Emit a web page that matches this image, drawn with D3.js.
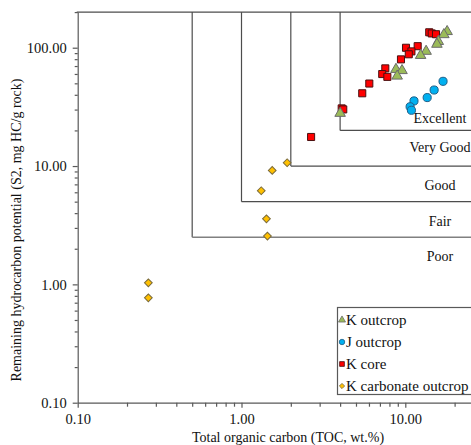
<!DOCTYPE html>
<html>
<head>
<meta charset="utf-8">
<script src="https://cdn.jsdelivr.net/npm/d3@7/dist/d3.min.js"></script>
<style>
  html, body { margin: 0; padding: 0; background: #fff; overflow: hidden; }
  svg { display: block; font-family: "Liberation Serif", "Times New Roman", serif; }
</style>
</head>
<body>
<svg id="chart" width="471" height="445"></svg>
<script>
// ---- Data (TOC wt.%, S2 mg HC/g rock) ----
const kOutcropTOC = [18.0, 17.2, 15.9, 15.6, 13.4, 12.4, 8.77, 9.55, 8.92, 4.0];
const kOutcropS2  = [137, 129, 113, 107, 93.3, 86.1, 65.6, 64.1, 57.6, 27.9];

const jOutcropTOC = [17.0, 15.0, 13.6, 11.3, 10.7, 10.9];
const jOutcropS2  = [52.0, 43.9, 37.9, 35.5, 31.7, 29.6];

const kCoreTOC = [14.0, 14.5, 15.4, 10.1, 11.9, 10.9, 10.5, 9.41, 7.55, 7.23, 7.77, 6.03, 5.46, 4.09, 4.18, 2.66];
const kCoreS2  = [135, 132, 130, 99.9, 103, 93.1, 88.0, 79.7, 66.9, 59.9, 56.7, 49.8, 41.2, 30.7, 30.1, 17.6];

const kCarbTOC = [1.90, 1.54, 1.32, 1.42, 1.44, 0.27, 0.27];
const kCarbS2  = [10.66, 9.19, 6.18, 3.58, 2.56, 1.03, 0.77];

const seriesNames = ["K outcrop", "J outcrop", "K core", "K carbonate outcrop"];

// Classification thresholds (Poor/Fair, Fair/Good, Good/Very Good, Very Good/Excellent)
const tocLimits = [0.5, 1, 2, 4];
const s2Limits  = [2.5, 5, 10, 20];
const classLabels = ["Poor", "Fair", "Good", "Very Good", "Excellent"];

const xMajor = [0.1, 1, 10];
const xMinor = [0.2,0.3,0.4,0.5,0.6,0.7,0.8,0.9,2,3,4,5,6,7,8,9,20];
const yMajor = [0.1, 1, 10, 100];
const yMinor = [0.2,0.3,0.4,0.5,0.6,0.7,0.8,0.9,2,3,4,5,6,7,8,9,20,30,40,50,60,70,80,90,200];

// ---- Layout ----
const W = 471, H = 445;
const x0 = 77.7, dec = 163.8;
const yBottom = 402.7, ydec = 118.33;
const x = d3.scaleLog().domain([0.1, 25]).range([x0, x0 + dec * Math.log10(250)]);
const y = d3.scaleLog().domain([0.1, 200]).range([yBottom, yBottom - ydec * Math.log10(2000)]);
const fmt = d3.format(".2f");

const svg = d3.select("#chart");
const axisColor = "#595959";
const lineColor = "#4d4d4d";

// ---- Classification boxes ----
const boxes = svg.append("g");
tocLimits.forEach((t, i) => {
  const s = s2Limits[i];
  boxes.append("line")
    .attr("x1", x(t)).attr("x2", x(t))
    .attr("y1", y(s)).attr("y2", y(200))
    .attr("stroke", lineColor).attr("stroke-width", 1.2);
  boxes.append("line")
    .attr("x1", x(t)).attr("x2", W + 5)
    .attr("y1", y(s)).attr("y2", y(s))
    .attr("stroke", i === 0 ? "#808080" : lineColor).attr("stroke-width", i === 0 ? 1.6 : 1.2);
});
// top border
svg.append("line").attr("x1", x0 - 1).attr("x2", W + 5)
  .attr("y1", y(200)).attr("y2", y(200))
  .attr("stroke", lineColor).attr("stroke-width", 1.2);

// class labels
const labelX = W - 31;
classLabels.forEach((lab, i) => {
  let yy;
  if (i < 4) yy = y(s2Limits[i]) + (i === 3 ? 22 : 24);
  else yy = y(s2Limits[3]) - 7;
  svg.append("text").attr("x", labelX).attr("y", yy)
    .attr("text-anchor", "middle").attr("font-size", 14).attr("fill", "#111")
    .text(lab);
});

// ---- Axes ----
const gx = svg.append("g").attr("transform", `translate(0,${yBottom})`);
gx.call(d3.axisBottom(x).tickValues(xMajor).tickSize(5).tickSizeOuter(0).tickPadding(6).tickFormat(fmt));
const gxm = svg.append("g").attr("transform", `translate(0,${yBottom})`);
gxm.call(d3.axisBottom(x).tickValues(xMinor).tickSize(4).tickSizeOuter(0).tickFormat(""));
gxm.select(".domain").remove();

const gy = svg.append("g").attr("transform", `translate(${x0},0)`);
gy.call(d3.axisLeft(y).tickValues(yMajor).tickSize(5).tickSizeOuter(0).tickPadding(6).tickFormat(fmt));
const gym = svg.append("g").attr("transform", `translate(${x0},0)`);
gym.call(d3.axisLeft(y).tickValues(yMinor).tickSize(3).tickSizeOuter(0).tickFormat(""));
gym.select(".domain").remove();

svg.selectAll(".domain, .tick line").attr("stroke", axisColor).attr("stroke-width", 1.2);
svg.selectAll(".tick text").attr("font-size", 14.5).attr("fill", "#111")
  .attr("font-family", "'Liberation Serif', 'Times New Roman', serif");

// axis titles
svg.append("text").attr("x", 288).attr("y", 442)
  .attr("text-anchor", "middle").attr("font-size", 14).attr("fill", "#111")
  .text("Total organic carbon (TOC, wt.%)");
svg.append("text")
  .attr("transform", `translate(21,${230}) rotate(-90)`)
  .attr("text-anchor", "middle").attr("font-size", 14).attr("fill", "#111")
  .text("Remaining hydrocarbon potential (S2, mg HC/g rock)");

// ---- Markers ----
const styles = [
  { type: d3.symbolTriangle, size: 48, fill: "#9BBB59", stroke: "#6b6b6b", rot: 0 },
  { type: d3.symbolCircle,   size: 52, fill: "#00B0F0", stroke: "#1f5f88", rot: 0 },
  { type: d3.symbolSquare,   size: 50, fill: "#FF0000", stroke: "#4a1010", rot: 0 },
  { type: d3.symbolSquare,   size: 30, fill: "#FFC000", stroke: "#7a6a3a", rot: 45 }
];
const seriesData = [
  kOutcropTOC.map((t, i) => [t, kOutcropS2[i]]),
  jOutcropTOC.map((t, i) => [t, jOutcropS2[i]]),
  kCoreTOC.map((t, i) => [t, kCoreS2[i]]),
  kCarbTOC.map((t, i) => [t, kCarbS2[i]])
];
// draw order: carbonate, J, K core, K outcrop
[3, 1, 2, 0].forEach(si => {
  const st = styles[si];
  svg.append("g").selectAll("path").data(seriesData[si]).join("path")
    .attr("transform", d => `translate(${x(d[0])},${y(d[1])}) rotate(${st.rot})`)
    .attr("d", d3.symbol().type(st.type).size(st.size))
    .attr("fill", st.fill).attr("stroke", st.stroke).attr("stroke-width", 1);
});

// ---- Legend ----
const lg = svg.append("g");
lg.append("rect").attr("x", 337.5).attr("y", 307.5).attr("width", 160).attr("height", 87)
  .attr("fill", "#fff").attr("stroke", "#595959").attr("stroke-width", 1.2);
seriesNames.forEach((name, i) => {
  const st = styles[i];
  const yy = 320 + i * 22;
  lg.append("path").attr("transform", `translate(342,${yy}) rotate(${st.rot})`)
    .attr("d", d3.symbol().type(st.type).size(st.size * 0.45))
    .attr("fill", st.fill).attr("stroke", st.stroke).attr("stroke-width", 0.8);
  lg.append("text").attr("x", 346).attr("y", yy + 5)
    .attr("font-size", 15).attr("fill", "#111").text(name);
});
</script>
</body>
</html>
